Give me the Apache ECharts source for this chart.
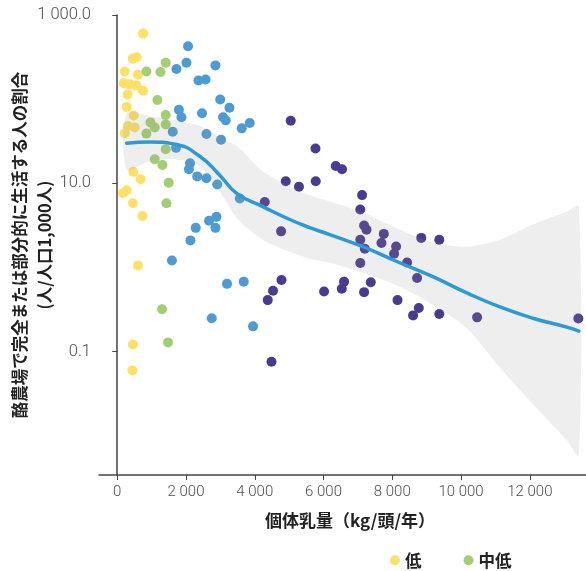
<!DOCTYPE html>
<html><head><meta charset="utf-8">
<script src="https://cdn.jsdelivr.net/npm/echarts@6/dist/echarts.min.js"></script>
<style>html,body{margin:0;padding:0;background:#fff}#c{width:586px;height:571px}</style>
</head><body><div id="c"></div>
<script>
const xTicks = [0, 2000, 4000, 6000, 8000, 10000, 12000];
const yTicks = [0.1, 10, 1000];
const seriesNames = ['低', '中低', '中高', '高'];
const seriesColors = ['#FDE166', '#A3CF72', '#4C9BD5', '#4B3A91'];
const low = [[750,601],[451,303],[567,315],[218,213],[605,195],[189,155],[364,150],[560,145],[750,126],[306,114],[276,81],[480,64],[306,48],[509,46],[218,39.5],[466,13.7],[684,11.2],[169,7.7],[276,8.3],[458,5.8],[733,4.1],[605,1.06],[458,0.122],[440,0.060]];
const midLow = [[1411,271],[849,213],[1257,210],[1169,98],[1411,65],[966,53],[1091,46],[1411,50],[849,39],[1411,25.5],[1091,19.3],[1315,16.5],[1498,10.2],[1431,5.8],[1303,0.32],[1478,0.129]];
const midHigh = [[2060,426],[2013,271],[1722,228],[2857,252],[2362,167],[2569,171],[2996,99],[3264,79],[1795,75],[1868,61],[2467,68],[3078,61],[3156,56],[3622,45],[3854,52],[1614,41],[2595,38.5],[3020,33],[1711,26.4],[2118,17.3],[2086,14.7],[2327,12.1],[2595,11.5],[2909,9.7],[3564,6.6],[2670,3.6],[2886,4.0],[2284,2.96],[2857,2.96],[2129,2.1],[1591,1.21],[3194,0.64],[3680,0.68],[2749,0.25],[3950,0.20]];
const high = [[5047,55.5],[5766,25.9],[6356,16.1],[6539,14.7],[4902,10.6],[5286,9.1],[5774,10.6],[7121,7.25],[4291,6.0],[7069,4.9],[7180,3.15],[7249,2.82],[4765,2.69],[7069,2.14],[7200,1.67],[7753,2.51],[7685,1.96],[8111,1.78],[8052,1.46],[8430,1.15],[7069,1.13],[4777,0.71],[4532,0.53],[4378,0.41],[6597,0.68],[6531,0.56],[7374,0.67],[6016,0.52],[7180,0.51],[8151,0.41],[4486,0.076],[8843,2.25],[9367,2.14],[8721,0.75],[8771,0.33],[8605,0.27],[9367,0.28],[10467,0.256],[13411,0.248]];
const fitX = [276, 945, 1673, 2400, 2982, 3476, 4233, 5018, 5600, 6182, 7142, 8218, 9178, 10167, 11127, 12087, 13076, 13425];
const fitY = [30.0, 30.9, 29.2, 21.0, 12.5, 7.6, 5.3, 3.72, 2.98, 2.46, 1.77, 1.14, 0.78, 0.50, 0.34, 0.25, 0.196, 0.176];
const bandLow = [14.7, 18.3, 19.3, 16.0, 8.0, 3.9, 2.14, 1.54, 1.27, 1.14, 0.865, 0.59, 0.36, 0.19, 0.065, 0.024, 0.0088, 0.0058];
const bandHigh = [68.5, 63.1, 56.5, 47.9, 35.4, 27.7, 13.9, 9.2, 7.2, 6.1, 4.5, 2.82, 1.98, 1.77, 2.14, 3.24, 4.63, 5.31];

const groups = [low, midLow, midHigh, high];
function thou(s){ return s.replace(/\B(?=(\d{3})+(?!\d))/g, ' '); }
function fmtY(v){ const s = Number(v).toFixed(1).split('.'); return thou(s[0]) + '.' + s[1]; }
function fmtX(v){ return thou(String(Math.round(v))); }

const chart = echarts.init(document.getElementById('c'), null, {renderer: 'canvas'});
const numFont = {fontFamily: 'Roboto', fontWeight: 300, color: '#4d4d4d'};
const jpFont = 'Noto Sans CJK JP';

const series = groups.map((g, i) => ({
  name: seriesNames[i], type: 'scatter', data: g, symbolSize: 10,
  itemStyle: {color: seriesColors[i], opacity: 1}, z: 2
}));
series.push({
  type: 'custom', name: 'band', z: 3, silent: true, clip: true,
  data: fitX.map((x, i) => [x, bandLow[i], bandHigh[i]]),
  renderItem: function(params, api){
    if (params.dataIndex !== 0) return null;
    const pts = [];
    for (let i = 0; i < fitX.length; i++) pts.push(api.coord([fitX[i], bandHigh[i]]));
    for (let i = fitX.length - 1; i >= 0; i--) pts.push(api.coord([fitX[i], bandLow[i]]));
    return {type: 'polygon', shape: {points: pts, smooth: 0.3}, style: {fill: 'rgba(150,150,150,0.16)'}};
  }
});
series.push({
  type: 'line', name: 'fit', data: fitX.map((x, i) => [x, fitY[i]]), smooth: 0.5,
  showSymbol: false, symbol: 'none', z: 4, silent: true,
  lineStyle: {color: '#2B9AD6', width: 3.5, cap: 'round'}
});

chart.setOption({
  animation: false,
  grid: {left: 99, top: 15, width: 502, height: 460, containLabel: false, outerBoundsMode: 'none'},
  legend: {
    data: ['低', '中低'], left: 385, top: 547, icon: 'circle', itemWidth: 10, itemHeight: 10, itemGap: 42,
    textStyle: {fontFamily: jpFont, fontSize: 16.5, fontWeight: 'bold', color: '#222'}
  },
  xAxis: {
    type: 'value', min: -530, max: 14070,
    name: '個体乳量（kg/頭/年）', nameLocation: 'middle', nameGap: 37, nameMoveOverlap: false,
    nameTextStyle: {fontFamily: jpFont, fontSize: 17, fontWeight: 'bold', color: '#222'},
    axisLine: {show: true, onZero: false, lineStyle: {color: '#444', width: 1.5}},
    axisTick: {show: true, length: 5, customValues: xTicks, lineStyle: {color: '#444'}},
    axisLabel: Object.assign({customValues: xTicks, formatter: fmtX, fontSize: 15, margin: 10}, numFont),
    splitLine: {show: false}
  },
  yAxis: {
    type: 'log', logBase: 10, min: 0.00343, max: 1000,
    name: '酪農場で完全または部分的に生活する人の割合\n(人/人口1,000人)', nameLocation: 'middle', nameGap: 42, nameRotate: 90, nameMoveOverlap: false,
    nameTextStyle: {fontFamily: jpFont, fontSize: 16.5, fontWeight: 'bold', color: '#222', lineHeight: 25},
    axisLine: {show: true, lineStyle: {color: '#444', width: 1.5}},
    axisTick: {show: true, length: 5, customValues: yTicks, lineStyle: {color: '#444'}},
    axisLabel: Object.assign({customValues: yTicks, formatter: fmtY, fontSize: 16.5, margin: 8}, numFont),
    splitLine: {show: false}, minorTick: {show: false}
  },
  series: series
});
</script></body></html>
